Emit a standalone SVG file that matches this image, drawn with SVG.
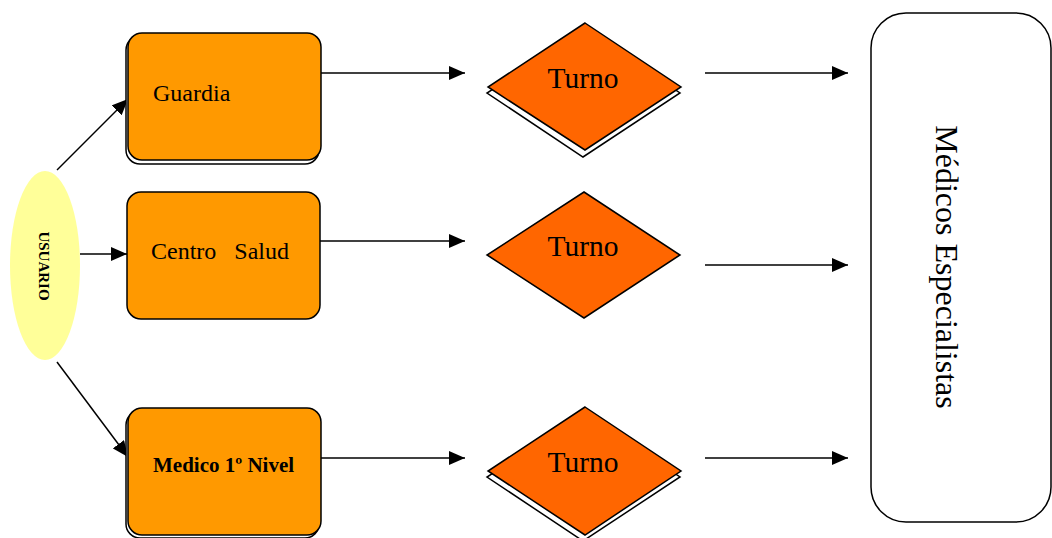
<svg xmlns="http://www.w3.org/2000/svg" width="1052" height="538" viewBox="0 0 1052 538">
<style>
.box{fill:#FF9900;stroke:#000;stroke-width:1.5}
.shadow{fill:#fff;stroke:#000;stroke-width:1.5}
.dia{fill:#FF6600;stroke:#000;stroke-width:1.5}
.con{stroke:#000;stroke-width:1.5;fill:none;marker-end:url(#ah)}
</style>
<defs>
<marker id="ah" viewBox="0 0 16 14" refX="16" refY="7" markerWidth="16" markerHeight="14" markerUnits="userSpaceOnUse" orient="auto">
<path d="M0,0 L16,7 L0,14 z" fill="#000"/>
</marker>
</defs>
<rect width="1052" height="538" fill="#fff"/>
<g id="connectors">
<line class="con" x1="57" y1="170" x2="128" y2="99"/>
<line class="con" x1="80" y1="254" x2="127" y2="254"/>
<line class="con" x1="57" y1="362" x2="128" y2="457"/>
<line class="con" x1="321" y1="73" x2="465" y2="73"/>
<line class="con" x1="320" y1="241" x2="465" y2="241"/>
<line class="con" x1="321" y1="458" x2="465" y2="458"/>
<line class="con" x1="705" y1="73" x2="848" y2="73"/>
<line class="con" x1="705" y1="265" x2="848" y2="265"/>
<line class="con" x1="705" y1="458" x2="848" y2="458"/>
</g>
<g id="usuario">
<ellipse cx="45" cy="265.5" rx="35" ry="94.5" fill="#FFFF99"/>
<text font-family="Liberation Serif, DejaVu Serif, serif" transform="translate(39,266) rotate(90)" text-anchor="middle" font-size="15" font-weight="bold">USUARIO</text>
</g>
<g id="guardia">
<rect class="shadow" x="126" y="36" width="193" height="128" rx="14"/>
<rect class="box" x="128" y="33" width="193" height="127" rx="14"/>
<text font-family="Liberation Serif, DejaVu Serif, serif" x="153" y="101" font-size="24">Guardia</text>
</g>
<g id="centro">
<rect class="box" x="127" y="192" width="193" height="127" rx="14"/>
<text font-family="Liberation Serif, DejaVu Serif, serif" x="151" y="259" font-size="24" xml:space="preserve">Centro   Salud</text>
</g>
<g id="medico">
<rect class="shadow" x="126" y="411" width="193" height="127" rx="14"/>
<rect class="box" x="128" y="408" width="193" height="127" rx="14"/>
<text font-family="Liberation Serif, DejaVu Serif, serif" x="153" y="472" font-size="21" font-weight="bold">Medico 1º Nivel</text>
</g>
<g id="turno1">
<polygon class="shadow" points="584,29 680,93 583,157 487,93"/>
<polygon class="dia" points="585,23 681,87 585,150 488,87"/>
<text font-family="Liberation Serif, DejaVu Serif, serif" x="583" y="88" font-size="29.5" text-anchor="middle">Turno</text>
</g>
<g id="turno2">
<polygon class="dia" points="584,192 680,255 584,318 487,255"/>
<text font-family="Liberation Serif, DejaVu Serif, serif" x="583" y="256" font-size="29.5" text-anchor="middle">Turno</text>
</g>
<g id="turno3">
<polygon class="shadow" points="584,413 680,477 583,541 487,477"/>
<polygon class="dia" points="585,407 681,471 585,535 488,471"/>
<text font-family="Liberation Serif, DejaVu Serif, serif" x="583" y="472" font-size="29.5" text-anchor="middle">Turno</text>
</g>
<g id="especialistas">
<rect x="871" y="13" width="180" height="509" rx="35" fill="#fff" stroke="#000" stroke-width="1.5"/>
<text font-family="Liberation Serif, DejaVu Serif, serif" transform="translate(936,267) rotate(90)" text-anchor="middle" font-size="32">Médicos Especialistas</text>
</g>
</svg>
